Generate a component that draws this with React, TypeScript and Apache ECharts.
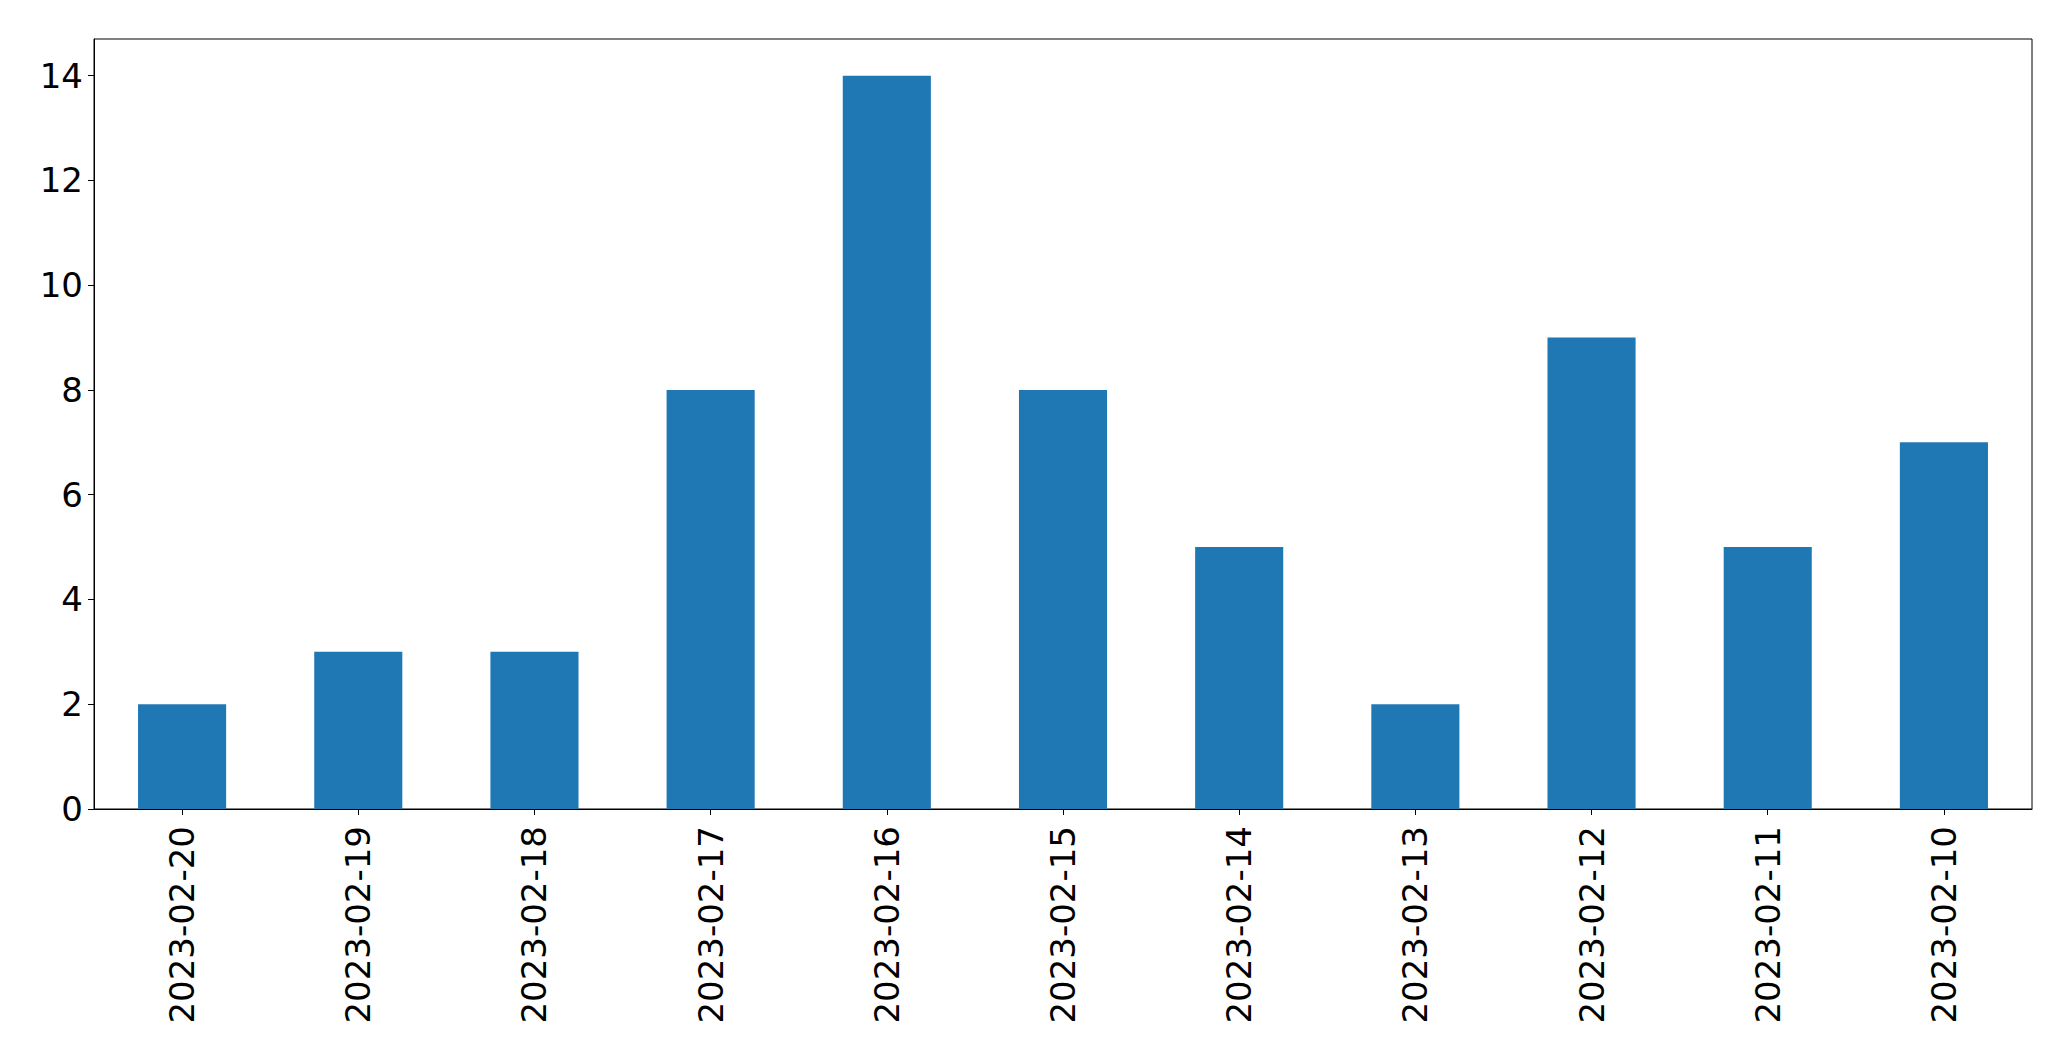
import React, { useEffect, useRef } from "react";
import * as echarts from "echarts";

const categories = [
  "2023-02-20", "2023-02-19", "2023-02-18", "2023-02-17", "2023-02-16", "2023-02-15",
  "2023-02-14", "2023-02-13", "2023-02-12", "2023-02-11", "2023-02-10",
];
const values = [2, 3, 3, 8, 14, 8, 5, 2, 9, 5, 7];
const yTicks = [0, 2, 4, 6, 8, 10, 12, 14];
const yMax = 14.7;

export default function App() {
  const ref = useRef<HTMLDivElement>(null);
  useEffect(() => {
    if (!ref.current) return;
    const chart = echarts.init(ref.current, null, { renderer: "svg" });
    const font = "DejaVu Sans";
    chart.setOption({
      animation: false,
      backgroundColor: "#fff",
      grid: {
        left: 94, top: 39, right: 39, bottom: 252,
        show: true, borderColor: "#000", borderWidth: 1, backgroundColor: "transparent",
      },
      xAxis: {
        type: "category",
        data: categories,
        boundaryGap: true,
        axisLine: { show: true, lineStyle: { color: "#000", width: 1 } },
        axisTick: { show: true, alignWithLabel: true, length: 6, lineStyle: { color: "#000", width: 1 } },
        axisLabel: { rotate: 90, fontSize: 34, fontFamily: font, color: "#000", margin: 17, interval: 0 },
        splitLine: { show: false },
      },
      yAxis: {
        type: "value",
        min: 0,
        max: yMax,
        interval: 2,
        axisLine: { show: true, lineStyle: { color: "#000", width: 1 } },
        axisTick: { show: true, length: 6, customValues: yTicks, lineStyle: { color: "#000", width: 1 } },
        axisLabel: { fontSize: 34, fontFamily: font, color: "#000", margin: 11, customValues: yTicks },
        splitLine: { show: false },
      },
      series: [
        {
          type: "bar",
          data: values,
          barWidth: "50%",
          itemStyle: { color: "#1f77b4" },
        },
      ],
    });
    return () => chart.dispose();
  }, []);
  return (
    <div
      ref={ref}
      style={{ position: "fixed", left: 0, top: 0, width: 2071, height: 1061 }}
    />
  );
}
